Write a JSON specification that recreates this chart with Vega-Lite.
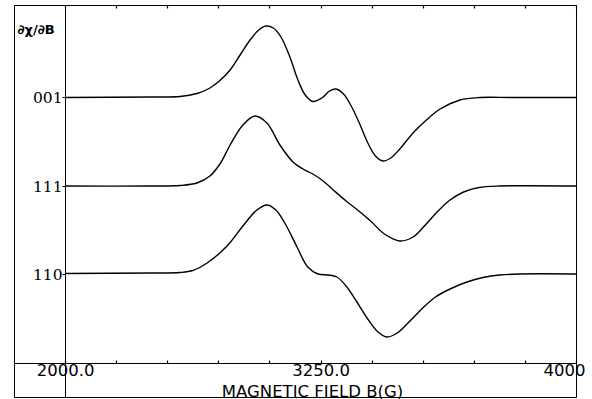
{
  "$schema": "https://vega.github.io/schema/vega-lite/v6.json",
  "width": 562,
  "height": 392,
  "autosize": {"type": "none"},
  "padding": {"left": 14, "top": 5, "right": 16, "bottom": 2},
  "background": "white",
  "config": {"view": {"stroke": "black", "strokeWidth": 1}},
  "data": {"values": [
    {"B": 2000, "dXdB": 299.5, "orientation": "001"},
    {"B": 2332, "dXdB": 300, "orientation": "001"},
    {"B": 2450, "dXdB": 300.5, "orientation": "001"},
    {"B": 2516, "dXdB": 303.5, "orientation": "001"},
    {"B": 2567, "dXdB": 309, "orientation": "001"},
    {"B": 2606, "dXdB": 316.5, "orientation": "001"},
    {"B": 2646, "dXdB": 327, "orientation": "001"},
    {"B": 2685, "dXdB": 342, "orientation": "001"},
    {"B": 2724, "dXdB": 357, "orientation": "001"},
    {"B": 2758, "dXdB": 367, "orientation": "001"},
    {"B": 2786, "dXdB": 371, "orientation": "001"},
    {"B": 2815, "dXdB": 369, "orientation": "001"},
    {"B": 2845, "dXdB": 360, "orientation": "001"},
    {"B": 2880, "dXdB": 340, "orientation": "001"},
    {"B": 2910, "dXdB": 318, "orientation": "001"},
    {"B": 2940, "dXdB": 302, "orientation": "001"},
    {"B": 2970, "dXdB": 295.5, "orientation": "001"},
    {"B": 3005, "dXdB": 299, "orientation": "001"},
    {"B": 3035, "dXdB": 306, "orientation": "001"},
    {"B": 3060, "dXdB": 308, "orientation": "001"},
    {"B": 3090, "dXdB": 303, "orientation": "001"},
    {"B": 3120, "dXdB": 291, "orientation": "001"},
    {"B": 3150, "dXdB": 275, "orientation": "001"},
    {"B": 3185, "dXdB": 254, "orientation": "001"},
    {"B": 3215, "dXdB": 241, "orientation": "001"},
    {"B": 3244, "dXdB": 236, "orientation": "001"},
    {"B": 3275, "dXdB": 239, "orientation": "001"},
    {"B": 3310, "dXdB": 248, "orientation": "001"},
    {"B": 3362, "dXdB": 264, "orientation": "001"},
    {"B": 3410, "dXdB": 276, "orientation": "001"},
    {"B": 3468, "dXdB": 288, "orientation": "001"},
    {"B": 3546, "dXdB": 297, "orientation": "001"},
    {"B": 3624, "dXdB": 299.5, "orientation": "001"},
    {"B": 3750, "dXdB": 299.5, "orientation": "001"},
    {"B": 4000, "dXdB": 299.5, "orientation": "001"},

    {"B": 2000, "dXdB": 211, "orientation": "111"},
    {"B": 2332, "dXdB": 211, "orientation": "111"},
    {"B": 2450, "dXdB": 211.5, "orientation": "111"},
    {"B": 2516, "dXdB": 214, "orientation": "111"},
    {"B": 2567, "dXdB": 221, "orientation": "111"},
    {"B": 2606, "dXdB": 233, "orientation": "111"},
    {"B": 2646, "dXdB": 252, "orientation": "111"},
    {"B": 2696, "dXdB": 272, "orientation": "111"},
    {"B": 2743, "dXdB": 281, "orientation": "111"},
    {"B": 2790, "dXdB": 274, "orientation": "111"},
    {"B": 2841, "dXdB": 252, "orientation": "111"},
    {"B": 2892, "dXdB": 235, "orientation": "111"},
    {"B": 2931, "dXdB": 228, "orientation": "111"},
    {"B": 2970, "dXdB": 223, "orientation": "111"},
    {"B": 3010, "dXdB": 216, "orientation": "111"},
    {"B": 3050, "dXdB": 207, "orientation": "111"},
    {"B": 3100, "dXdB": 196, "orientation": "111"},
    {"B": 3150, "dXdB": 186, "orientation": "111"},
    {"B": 3200, "dXdB": 175, "orientation": "111"},
    {"B": 3250, "dXdB": 163, "orientation": "111"},
    {"B": 3311, "dXdB": 156, "orientation": "111"},
    {"B": 3362, "dXdB": 160, "orientation": "111"},
    {"B": 3410, "dXdB": 172, "orientation": "111"},
    {"B": 3460, "dXdB": 186, "orientation": "111"},
    {"B": 3507, "dXdB": 197, "orientation": "111"},
    {"B": 3560, "dXdB": 205, "orientation": "111"},
    {"B": 3620, "dXdB": 209.5, "orientation": "111"},
    {"B": 3702, "dXdB": 211, "orientation": "111"},
    {"B": 4000, "dXdB": 211, "orientation": "111"},

    {"B": 2000, "dXdB": 123.5, "orientation": "110"},
    {"B": 2332, "dXdB": 124, "orientation": "110"},
    {"B": 2450, "dXdB": 124.5, "orientation": "110"},
    {"B": 2500, "dXdB": 126.5, "orientation": "110"},
    {"B": 2556, "dXdB": 134, "orientation": "110"},
    {"B": 2634, "dXdB": 151, "orientation": "110"},
    {"B": 2696, "dXdB": 171, "orientation": "110"},
    {"B": 2751, "dXdB": 187, "orientation": "110"},
    {"B": 2790, "dXdB": 192, "orientation": "110"},
    {"B": 2825, "dXdB": 187, "orientation": "110"},
    {"B": 2860, "dXdB": 174, "orientation": "110"},
    {"B": 2908, "dXdB": 150, "orientation": "110"},
    {"B": 2950, "dXdB": 130, "orientation": "110"},
    {"B": 2990, "dXdB": 123, "orientation": "110"},
    {"B": 3030, "dXdB": 122, "orientation": "110"},
    {"B": 3064, "dXdB": 120, "orientation": "110"},
    {"B": 3100, "dXdB": 111, "orientation": "110"},
    {"B": 3140, "dXdB": 96, "orientation": "110"},
    {"B": 3182, "dXdB": 79, "orientation": "110"},
    {"B": 3225, "dXdB": 65, "orientation": "110"},
    {"B": 3260, "dXdB": 60, "orientation": "110"},
    {"B": 3300, "dXdB": 64, "orientation": "110"},
    {"B": 3350, "dXdB": 76, "orientation": "110"},
    {"B": 3400, "dXdB": 89, "orientation": "110"},
    {"B": 3450, "dXdB": 100, "orientation": "110"},
    {"B": 3507, "dXdB": 108, "orientation": "110"},
    {"B": 3573, "dXdB": 115, "orientation": "110"},
    {"B": 3636, "dXdB": 119.5, "orientation": "110"},
    {"B": 3702, "dXdB": 122, "orientation": "110"},
    {"B": 3780, "dXdB": 123, "orientation": "110"},
    {"B": 4000, "dXdB": 123, "orientation": "110"}
  ]},
  "layer": [
    {
      "mark": {"type": "line", "interpolate": "catmull-rom", "color": "black", "strokeWidth": 1.4},
      "encoding": {
        "x": {
          "field": "B", "type": "quantitative",
          "scale": {"domain": [1800, 4000], "nice": false, "zero": false},
          "axis": {
            "orient": "bottom", "offset": -34,
            "values": [2000, 2200, 2400, 2600, 2800, 3000, 3200, 3400, 3600, 3800, 4000],
            "tickSize": -3, "tickColor": "black", "tickWidth": 1.2,
            "domainColor": "black", "domainWidth": 1, "grid": false,
            "labelExpr": "datum.value == 2000 ? '2000.0' : datum.value == 3000 ? '3250.0' : datum.value == 4000 ? '4000' : ''",
            "labelFont": "DejaVu Sans", "labelFontSize": 16.5, "labelColor": "black",
            "labelPadding": 2, "labelBaseline": "top", "labelOverlap": false, "labelBound": false, "labelFlush": false,
            "labelOffset": {"condition": {"test": "datum.value == 4000", "value": -12}, "value": 0},
            "title": "MAGNETIC FIELD B(G)", "titleFont": "DejaVu Sans", "titleFontSize": 16.5,
            "titleFontWeight": "normal", "titleColor": "black",
            "titleX": 298, "titleY": 33, "titleAlign": "center", "titleBaseline": "alphabetic"
          }
        },
        "y": {
          "field": "dXdB", "type": "quantitative",
          "scale": {"domain": [0, 392], "nice": false, "zero": false},
          "axis": {
            "orient": "left", "offset": -51,
            "values": [123, 211, 299.5],
            "labelExpr": "datum.value == 299.5 ? '001' : datum.value == 211 ? '111' : '110'",
            "tickSize": 3, "tickColor": "black", "domainColor": "black", "domainWidth": 1, "grid": false,
            "labelPadding": 0, "labelFont": "DejaVu Serif", "labelFontSize": 15.5, "labelColor": "black",
            "title": "∂χ/∂B", "titleAngle": 0, "titleX": -48, "titleY": 24,
            "titleAlign": "left", "titleBaseline": "middle",
            "titleFont": "DejaVu Sans", "titleFontSize": 13, "titleFontWeight": "bold", "titleColor": "black"
          }
        },
        "detail": {"field": "orientation", "type": "nominal"}
      }
    },
    {
      "mark": {"type": "line", "strokeOpacity": 0},
      "encoding": {
        "x": {
          "field": "B", "type": "quantitative",
          "axis": {
            "orient": "top", "domain": false, "labels": false, "title": null, "grid": false,
            "values": [2000, 2200, 2400, 2600, 2800, 3000, 3200, 3400, 3600, 3800, 4000],
            "tickSize": -3, "tickColor": "black", "tickWidth": 1.2
          }
        },
        "y": {"field": "dXdB", "type": "quantitative"},
        "detail": {"field": "orientation", "type": "nominal"}
      }
    }
  ],
  "resolve": {"axis": {"x": "independent"}}
}
